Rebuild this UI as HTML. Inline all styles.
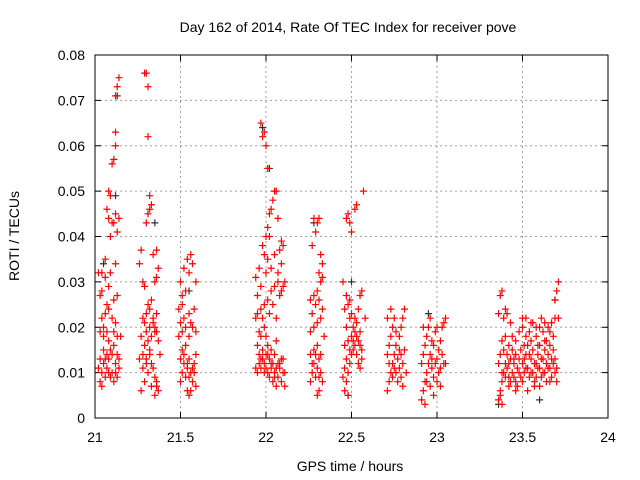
<!DOCTYPE html>
<html><head><meta charset="utf-8"><style>
html,body{margin:0;padding:0;background:#fff;}
svg{display:block;font-family:"Liberation Sans",sans-serif;}
</style></head><body>
<svg id="chart" width="640" height="480" viewBox="0 0 640 480">
<rect width="640" height="480" fill="#fff"/>
<text x="348" y="32" font-size="14" text-anchor="middle">Day 162 of 2014, Rate Of TEC Index for receiver pove</text>
<g id="grid"></g>
<g id="ticks"></g>
<g id="pts"></g>
<rect x="95" y="55" width="513" height="363" fill="none" stroke="#000" stroke-width="1"/>
<text x="350" y="471" font-size="14" text-anchor="middle">GPS time / hours</text>
<text transform="translate(19,236) rotate(-90)" font-size="14" text-anchor="middle">ROTI / TECUs</text>
</svg>
<script>
const xTicks = [21, 21.5, 22, 22.5, 23, 23.5, 24];
const xTickLabels = ["21","21.5","22","22.5","23","23.5","24"];
const yTicks = [0,0.01,0.02,0.03,0.04,0.05,0.06,0.07,0.08];
const yTickLabels = ["0","0.01","0.02","0.03","0.04","0.05","0.06","0.07","0.08"];
const blackPoints = [[21.05,.034],[21.12,.049],[21.13,.071],[21.35,.043],[21.55,.028],[21.98,.064],[22.02,.055],[22.28,.043],[22.50,.030],[22.48,.005],[22.95,.023],[23.36,.003],[23.60,.004],[23.69,.026]];
const redPoints = [
[21.03,.008],[21.04,.010],[21.05,.012],[21.06,.009],[21.07,.011],[21.08,.013],[21.09,.015],[21.10,.010],[21.11,.008],[21.12,.012],[21.13,.014],[21.14,.011],[21.03,.013],[21.05,.015],[21.07,.014],[21.09,.009],[21.11,.016],[21.13,.009],[21.04,.007],[21.06,.013],[21.08,.010],[21.10,.014],[21.12,.010],[21.14,.013],[21.02,.011],[21.05,.018],[21.07,.019],[21.03,.019],[21.08,.017],[21.11,.019],[21.13,.018],[21.15,.018],[21.04,.022],[21.06,.023],[21.08,.024],[21.10,.022],[21.12,.021],[21.05,.020],[21.03,.027],[21.04,.028],[21.06,.031],[21.08,.029],[21.09,.032],[21.11,.026],[21.13,.027],[21.04,.032],[21.02,.032],[21.06,.035],[21.12,.034],[21.07,.025],
[21.07,.046],[21.08,.044],[21.10,.043],[21.12,.045],[21.13,.041],[21.09,.049],[21.11,.043],[21.08,.050],[21.10,.056],[21.11,.057],[21.12,.060],[21.12,.063],[21.12,.071],[21.14,.075],[21.13,.073],[21.09,.040],[21.14,.044],
[21.27,.006],[21.29,.008],[21.31,.010],[21.33,.012],[21.35,.009],[21.28,.011],[21.30,.013],[21.32,.014],[21.34,.011],[21.36,.008],[21.26,.013],[21.28,.014],[21.30,.012],[21.35,.005],[21.36,.007],[21.37,.006],[21.33,.007],[21.29,.016],[21.31,.017],[21.33,.018],[21.35,.019],[21.27,.018],[21.30,.019],[21.32,.020],[21.34,.021],[21.36,.019],[21.28,.022],[21.30,.023],[21.32,.024],[21.34,.022],[21.36,.023],[21.31,.025],[21.33,.026],[21.35,.020],[21.29,.021],[21.37,.017],[21.38,.014],[21.32,.015],[21.28,.030],[21.29,.029],[21.35,.030],[21.36,.031],[21.37,.033],[21.26,.034],[21.34,.036],[21.36,.037],[21.27,.037],
[21.30,.043],[21.31,.045],[21.32,.046],[21.33,.047],[21.32,.049],[21.31,.062],[21.29,.076],[21.30,.076],[21.31,.073],
[21.50,.008],[21.51,.010],[21.52,.012],[21.53,.009],[21.54,.011],[21.55,.013],[21.56,.006],[21.57,.008],[21.58,.010],[21.59,.007],[21.50,.013],[21.52,.014],[21.54,.012],[21.56,.010],[21.58,.012],[21.51,.015],[21.53,.016],[21.55,.009],[21.57,.011],[21.59,.014],[21.49,.018],[21.51,.019],[21.53,.020],[21.55,.018],[21.57,.020],[21.59,.019],[21.50,.021],[21.52,.022],[21.56,.021],[21.49,.024],[21.51,.025],[21.55,.023],[21.58,.024],[21.51,.027],[21.53,.028],[21.50,.030],[21.52,.033],[21.54,.035],[21.56,.036],[21.57,.034],[21.55,.032],[21.59,.030],[21.54,.006],[21.55,.005],
[21.95,.010],[21.96,.012],[21.97,.011],[21.98,.013],[21.99,.012],[22.00,.011],[22.01,.010],[22.02,.009],[22.03,.012],[22.04,.008],[22.05,.010],[22.06,.007],[22.07,.009],[22.08,.011],[22.09,.008],[22.10,.010],[22.11,.007],[21.96,.014],[21.98,.015],[22.00,.014],[22.02,.013],[22.04,.012],[22.06,.011],[22.08,.012],[22.10,.013],[21.94,.011],[21.97,.013],[21.99,.010],[22.01,.014],[22.03,.011],[22.05,.009],[22.07,.012],[22.09,.013],[22.11,.010],[21.95,.016],[21.97,.018],[21.99,.020],[22.01,.016],[21.96,.019],[22.00,.018],[22.06,.017],[22.03,.015],[22.05,.014],
[21.94,.022],[21.95,.023],[21.97,.024],[21.99,.025],[21.98,.022],[22.01,.026],[22.03,.028],[22.05,.029],[22.07,.030],[22.09,.028],[22.04,.025],[22.06,.022],[22.08,.027],[22.10,.029],[22.02,.023],[21.95,.027],[21.97,.029],[21.94,.031],[21.96,.033],[21.99,.036],[22.01,.035],[22.03,.033],[22.05,.036],[22.07,.032],[22.09,.034],[22.11,.030],[21.98,.038],[22.00,.032],[22.08,.037],[22.10,.038],
[22.00,.040],[22.01,.042],[22.02,.045],[22.03,.046],[22.05,.050],[22.06,.050],[22.04,.048],[22.01,.055],[22.00,.060],[21.98,.062],[21.99,.063],[21.97,.065],[22.07,.044],[22.09,.039],[22.02,.040],
[22.26,.008],[22.27,.010],[22.28,.012],[22.29,.009],[22.30,.011],[22.31,.013],[22.32,.010],[22.33,.008],[22.26,.014],[22.28,.015],[22.30,.016],[22.32,.014],[22.27,.012],[22.29,.014],[22.31,.009],[22.30,.005],[22.31,.006],[22.26,.019],[22.28,.020],[22.30,.021],[22.32,.022],[22.27,.023],[22.29,.025],[22.31,.026],[22.33,.024],[22.28,.027],[22.30,.028],[22.32,.030],[22.26,.026],[22.31,.032],[22.33,.034],[22.32,.036],[22.27,.038],[22.29,.041],[22.30,.043],[22.28,.044],[22.31,.044],[22.33,.031],[22.34,.018],
[22.46,.006],[22.47,.008],[22.48,.010],[22.49,.012],[22.50,.014],[22.51,.015],[22.52,.016],[22.53,.014],[22.54,.012],[22.55,.011],[22.56,.013],[22.47,.013],[22.49,.015],[22.51,.017],[22.53,.018],[22.55,.016],[22.46,.016],[22.48,.017],[22.50,.018],[22.52,.019],[22.54,.017],[22.56,.015],[22.45,.009],[22.47,.020],[22.49,.022],[22.51,.020],[22.53,.021],[22.55,.019],[22.46,.024],[22.48,.025],[22.50,.023],[22.52,.022],[22.54,.024],[22.47,.027],[22.49,.026],[22.55,.027],[22.56,.028],[22.45,.030],[22.58,.022],[22.46,.011],[22.48,.005],
[22.47,.044],[22.48,.045],[22.49,.043],[22.50,.041],[22.52,.046],[22.53,.047],[22.57,.050],
[22.71,.006],[22.72,.008],[22.73,.010],[22.74,.012],[22.75,.014],[22.76,.016],[22.77,.013],[22.78,.011],[22.79,.009],[22.80,.012],[22.81,.015],[22.71,.014],[22.72,.016],[22.73,.018],[22.74,.020],[22.75,.022],[22.76,.010],[22.77,.008],[22.78,.018],[22.79,.020],[22.80,.022],[22.81,.024],[22.72,.012],[22.74,.009],[22.76,.019],[22.78,.015],[22.80,.007],[22.82,.010],[22.71,.022],[22.73,.024],[22.75,.011],[22.79,.014],
[22.91,.004],[22.92,.006],[22.93,.008],[22.94,.010],[22.95,.012],[22.96,.014],[22.97,.011],[22.98,.009],[22.99,.012],[23.00,.013],[23.01,.010],[23.02,.011],[23.03,.014],[23.04,.012],[22.91,.012],[22.92,.014],[22.93,.016],[22.94,.018],[22.95,.020],[22.96,.022],[22.97,.017],[22.98,.016],[22.99,.019],[23.00,.008],[23.01,.015],[23.02,.017],[23.03,.020],[23.04,.021],[23.05,.022],[22.92,.020],[22.94,.008],[22.96,.007],[22.98,.005],[23.00,.020],[22.93,.003],[22.97,.013],[23.02,.007],[23.05,.012],
[23.36,.004],[23.37,.006],[23.38,.008],[23.39,.010],[23.40,.012],[23.41,.011],[23.42,.009],[23.43,.013],[23.44,.010],[23.45,.012],[23.46,.008],[23.47,.011],[23.48,.013],[23.49,.009],[23.50,.012],[23.51,.010],[23.52,.014],[23.53,.011],[23.54,.009],[23.55,.013],[23.56,.010],[23.57,.008],[23.58,.012],[23.59,.014],[23.60,.011],[23.61,.009],[23.62,.013],[23.63,.010],[23.64,.012],[23.65,.014],[23.66,.011],[23.67,.009],[23.68,.012],[23.69,.010],[23.70,.008],
[23.36,.012],[23.37,.014],[23.38,.010],[23.39,.015],[23.40,.009],[23.41,.014],[23.42,.012],[23.43,.008],[23.44,.015],[23.45,.009],[23.46,.014],[23.47,.007],[23.48,.010],[23.49,.015],[23.50,.008],[23.51,.013],[23.52,.011],[23.53,.016],[23.54,.014],[23.55,.010],[23.56,.015],[23.57,.012],[23.58,.009],[23.59,.011],[23.60,.016],[23.61,.013],[23.62,.010],[23.63,.015],[23.64,.008],[23.65,.011],[23.66,.016],[23.67,.013],[23.68,.015],[23.69,.013],[23.70,.011],
[23.38,.017],[23.40,.018],[23.42,.016],[23.44,.018],[23.46,.017],[23.48,.019],[23.50,.020],[23.52,.018],[23.54,.019],[23.56,.021],[23.58,.018],[23.60,.020],[23.62,.019],[23.64,.017],[23.66,.019],[23.68,.018],[23.51,.016],[23.55,.017],[23.59,.016],[23.63,.017],
[23.36,.023],[23.37,.027],[23.38,.028],[23.39,.022],[23.40,.024],[23.41,.023],[23.43,.021],[23.45,.013],[23.50,.022],[23.52,.022],[23.55,.021],[23.58,.020],[23.61,.022],[23.63,.021],[23.65,.020],[23.67,.021],[23.69,.022],[23.70,.028],[23.71,.030],[23.69,.026],[23.71,.022],[23.37,.005],[23.38,.003],[23.53,.006],[23.57,.007],[23.60,.007],[23.66,.008],[23.46,.006],[23.42,.007]
];
const NS='http://www.w3.org/2000/svg';
const X0=95,X1=608,Y0=418,Y1=55,XMIN=21,XMAX=24,YMIN=0,YMAX=0.08;
function xs(v){return X0+(v-XMIN)/(XMAX-XMIN)*(X1-X0);}
function ys(v){return Y0-(v-YMIN)/(YMAX-YMIN)*(Y0-Y1);}
function mk(tag,attrs,parent){const e=document.createElementNS(NS,tag);for(const k in attrs)e.setAttribute(k,attrs[k]);parent.appendChild(e);return e;}
const grid=document.getElementById('grid'),ticks=document.getElementById('ticks'),pts=document.getElementById('pts');
xTicks.forEach((t,i)=>{
  const x=xs(t);
  if(i>0&&i<xTicks.length-1){
    const g=mk('line',{x1:x,x2:x,y1:Y0,y2:Y1,stroke:'#a0a0a0','stroke-dasharray':'2,3'},grid);
    
    
  }
  mk('line',{x1:x,x2:x,y1:Y0,y2:Y0-6,stroke:'#000'},ticks);
  mk('line',{x1:x,x2:x,y1:Y1,y2:Y1+6,stroke:'#000'},ticks);
  const tl=mk('text',{x:x,y:442,'font-size':14,'text-anchor':'middle'},ticks);
  tl.textContent=xTickLabels[i];
  
  
});
yTicks.forEach((t,i)=>{
  const y=ys(t);
  if(i>0&&i<yTicks.length-1){
    const g=mk('line',{x1:X0,x2:X1,y1:y,y2:y,stroke:'#a0a0a0','stroke-dasharray':'2,3'},grid);
    
    
  }
  mk('line',{x1:X0,x2:X0+6,y1:y,y2:y,stroke:'#000'},ticks);
  mk('line',{x1:X1,x2:X1-6,y1:y,y2:y,stroke:'#000'},ticks);
  const tl=mk('text',{x:85,y:y+5,'font-size':14,'text-anchor':'end'},ticks);
  tl.textContent=yTickLabels[i];
  
  
});
function plus(p,color){
  const x=xs(p[0]),y=ys(p[1]);
  const el=mk('path',{d:`M${x-3.5},${y}H${x+3.5}M${x},${y-3.5}V${y+3.5}`,stroke:color,'stroke-width':1.2,fill:'none'},pts);
  
  
}
blackPoints.forEach(p=>plus(p,'#303030'));
redPoints.forEach(p=>plus(p,'#ff0000'));
</script>
</body></html>
